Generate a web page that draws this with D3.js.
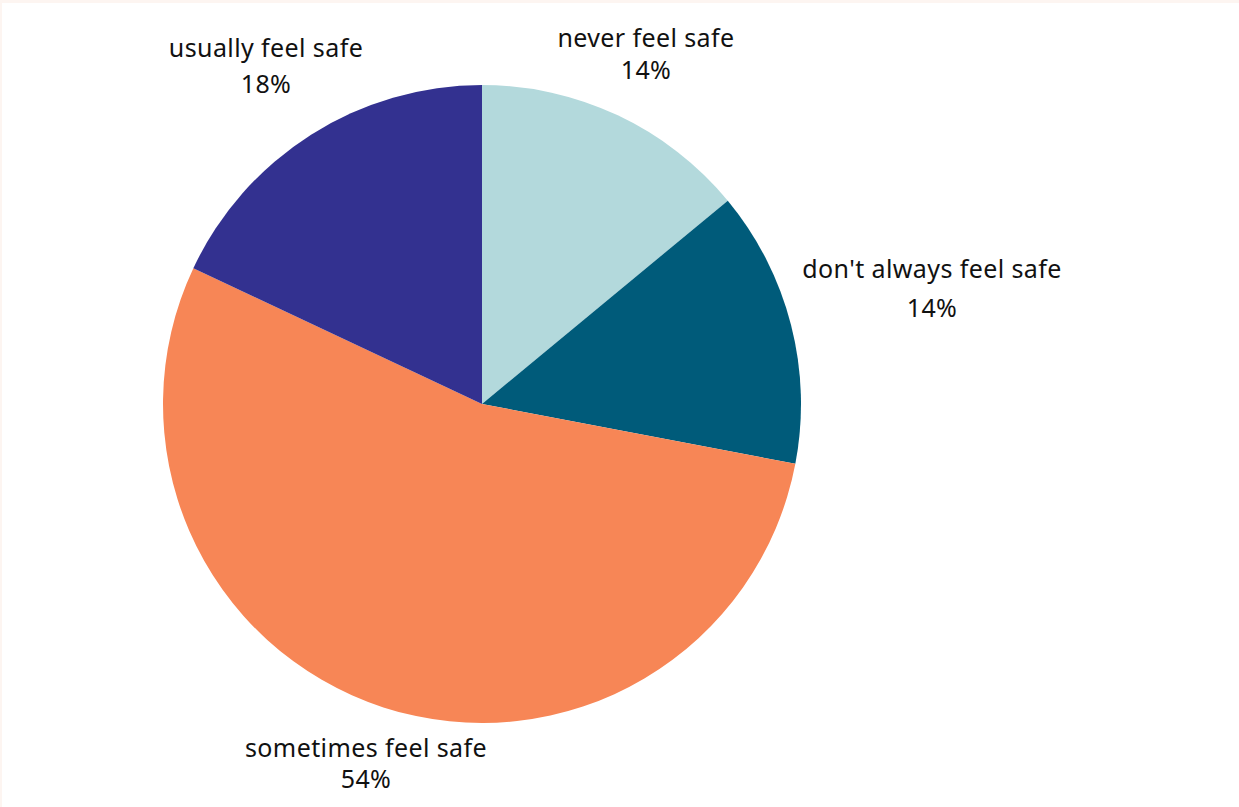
<!DOCTYPE html>
<html>
<head>
<meta charset="utf-8">
<script src="https://cdn.jsdelivr.net/npm/d3@7"></script>
<style>
  html, body { margin: 0; padding: 0; background: #ffffff; }
  #chart { width: 1239px; height: 807px; }
</style>
</head>
<body>
<div id="chart"></div>
<script>
// Chart data
const categories = ["never feel safe", "don't always feel safe", "sometimes feel safe", "usually feel safe"];
const values = [14, 14, 54, 18];
const colors = ["#b3d9dc", "#005b7a", "#f78656", "#333190"];

// label layout: x centre, baseline of first line, baseline of second line
const labelPos = [[646, 47, 79], [932, 278, 317], [366, 757, 788], [266, 57, 93]];

const width = 1239, height = 807;
const cx = 482, cy = 404, radius = 319;

const svg = d3.select("#chart")
  .append("svg")
  .attr("width", width)
  .attr("height", height);

// faint page edge
svg.append("rect").attr("x", 0).attr("y", 0).attr("width", width).attr("height", 3).attr("fill", "#fdf5f1");
svg.append("rect").attr("x", 0).attr("y", 0).attr("width", 2).attr("height", height).attr("fill", "#fdf5f1");

const pie = d3.pie().sort(null).value(d => d);
const arc = d3.arc().innerRadius(0).outerRadius(radius);

const g = svg.append("g").attr("transform", `translate(${cx},${cy})`);

g.selectAll("path")
  .data(pie(values))
  .enter()
  .append("path")
  .attr("d", arc)
  .attr("fill", (d, i) => colors[i]);

// Labels
const labels = svg.selectAll("text.lbl")
  .data(categories)
  .enter()
  .append("text")
  .attr("class", "lbl")
  .attr("text-anchor", "middle")
  .style("font-family", "'Noto Sans', sans-serif")
  .style("font-size", "25px")
  .style("letter-spacing", "0.4px")
  .style("fill", "#111");

labels.append("tspan")
  .attr("x", (d, i) => labelPos[i][0])
  .attr("y", (d, i) => labelPos[i][1])
  .text(d => d);

labels.append("tspan")
  .attr("x", (d, i) => labelPos[i][0])
  .attr("y", (d, i) => labelPos[i][2])
  .text((d, i) => values[i] + "%");
</script>
</body>
</html>
